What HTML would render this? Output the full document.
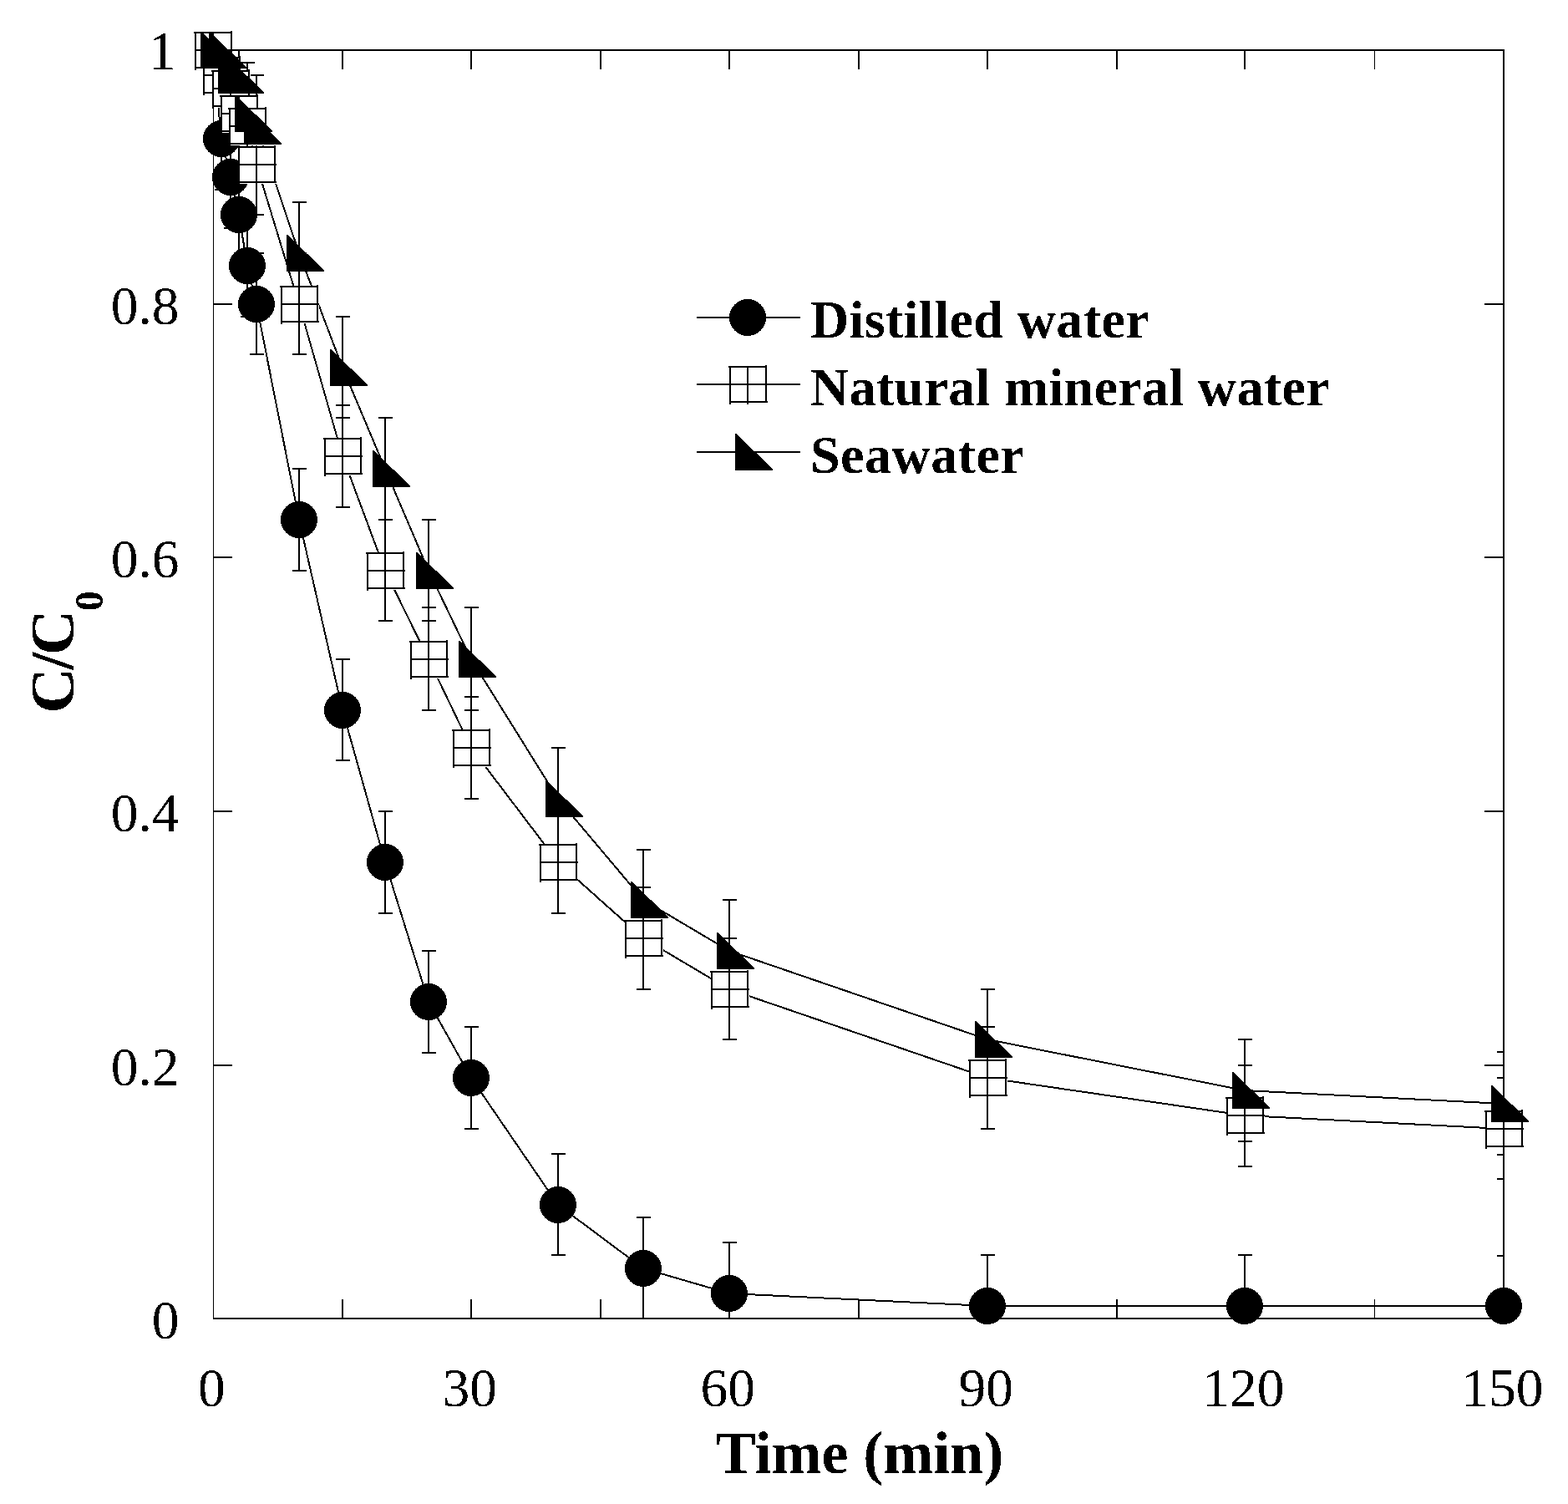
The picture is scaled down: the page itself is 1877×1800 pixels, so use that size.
<!DOCTYPE html>
<html lang="en"><head><meta charset="utf-8"><title>C/C0 versus time</title>
<style>html,body{margin:0;padding:0;background:#fff}body{width:1877px;height:1800px;overflow:hidden}svg{display:block}text{font-family:"Liberation Serif","DejaVu Serif",serif;fill:#000}.b{font-weight:bold}</style></head><body>
<svg width="1877" height="1800" viewBox="0 0 1877 1800">
<defs><clipPath id="cp"><rect x="255" y="59" width="1546" height="1520"/></clipPath><filter id="bw" x="-5%" y="-20%" width="110%" height="140%" color-interpolation-filters="sRGB"><feComponentTransfer><feFuncA type="discrete" tableValues="0 1"/></feComponentTransfer></filter></defs>
<rect width="1877" height="1800" fill="#fff"/>
<path id="axes" shape-rendering="crispEdges" d="M255 59H1801V61H255zM255 1577H1801V1579H255zM255 59H256V1579H255zM1799 59H1801V1579H1799zM409 1555H411V1577H409zM409 61H411V83H409zM563 1555H565V1577H563zM563 61H565V83H563zM718 1555H720V1577H718zM718 61H720V83H718zM872 1555H874V1577H872zM872 61H874V83H872zM1027 1555H1029V1577H1027zM1027 61H1029V83H1027zM1181 1555H1183V1577H1181zM1181 61H1183V83H1181zM1336 1555H1338V1577H1336zM1336 61H1338V83H1336zM1489 1555H1491V1577H1489zM1489 61H1491V83H1489zM1645 1555H1646V1577H1645zM1645 61H1646V83H1645zM256 1274H278V1276H256zM1777 1274H1799V1276H1777zM256 970H278V972H256zM1777 970H1799V972H1777zM256 666H278V668H256zM1777 666H1799V668H1777zM256 363H278V365H256zM1777 363H1799V365H1777z"/>
<g clip-path="url(#cp)" shape-rendering="crispEdges">
<path d="M254 -2H256V122H254zM247 -2H264V0H247zM247 120H264V122H247zM264 105H266V228H264zM257 105H274V107H257zM257 226H274V228H257zM275 150H277V274H275zM268 150H285V152H268zM268 272H285V274H268zM285 196H287V319H285zM278 196H295V198H278zM278 317H295V319H278zM295 256H297V380H295zM288 256H305V258H288zM288 378H305V380H288zM306 302H308V425H306zM299 302H316V304H299zM299 423H316V425H299zM357 560H359V684H357zM350 560H367V562H350zM350 682H367V684H350zM409 788H411V911H409zM402 788H419V790H402zM402 909H419V911H402zM460 970H462V1094H460zM453 970H470V972H453zM453 1092H470V1094H453zM512 1137H514V1261H512zM505 1137H522V1139H505zM505 1259H522V1261H505zM563 1228H565V1352H563zM556 1228H573V1230H556zM556 1350H573V1352H556zM667 1380H669V1503H667zM660 1380H677V1382H660zM660 1501H677V1503H660zM769 1456H771V1579H769zM762 1456H779V1458H762zM762 1577H779V1579H762zM872 1486H874V1610H872zM865 1486H882V1488H865zM865 1608H882V1610H865zM1181 1501H1183V1625H1181zM1174 1501H1191V1503H1174zM1174 1623H1191V1625H1174zM1489 1501H1491V1625H1489zM1482 1501H1499V1503H1482zM1482 1623H1499V1625H1482zM1799 1502H1801V1625H1799zM1792 1502H1809V1504H1792zM1792 1623H1809V1625H1792z"/>
<path d="M254 -2H256V122H254zM247 -2H264V0H247zM247 120H264V122H247zM264 29H266V152H264zM257 29H274V31H257zM257 150H274V152H257zM275 44H277V167H275zM268 44H285V46H268zM268 165H285V167H268zM285 74H287V198H285zM278 74H295V76H278zM278 196H295V198H278zM295 89H297V213H295zM288 89H305V91H288zM288 211H305V213H288zM306 135H308V258H306zM299 135H316V137H299zM299 256H316V258H299zM357 302H359V425H357zM350 302H367V304H350zM350 423H367V425H350zM409 484H411V608H409zM402 484H419V486H402zM402 606H419V608H402zM460 621H462V744H460zM453 621H470V623H453zM453 742H470V744H453zM512 726H514V851H512zM505 726H522V728H505zM505 849H522V851H505zM563 833H565V957H563zM556 833H573V835H556zM556 955H573V957H556zM667 970H669V1094H667zM660 970H677V972H660zM660 1092H677V1094H660zM769 1061H771V1185H769zM762 1061H779V1063H762zM762 1183H779V1185H762zM872 1122H874V1245H872zM865 1122H882V1124H865zM865 1243H882V1245H865zM1181 1228H1183V1352H1181zM1174 1228H1191V1230H1174zM1174 1350H1191V1352H1174zM1489 1274H1491V1397H1489zM1482 1274H1499V1276H1482zM1482 1395H1499V1397H1482zM1799 1289H1801V1412H1799zM1792 1289H1809V1291H1792zM1792 1410H1809V1412H1792z"/>
<path d="M254 -2H256V122H254zM247 -2H264V0H247zM247 120H264V122H247zM264 -2H266V122H264zM257 -2H274V0H257zM257 120H274V122H257zM275 29H277V152H275zM268 29H285V31H268zM268 150H285V152H268zM285 29H287V152H285zM278 29H295V31H278zM278 150H295V152H278zM295 74H297V198H295zM288 74H305V76H288zM288 196H305V198H288zM306 89H308V213H306zM299 89H316V91H299zM299 211H316V213H299zM357 241H359V365H357zM350 241H367V243H350zM350 363H367V365H350zM409 378H411V501H409zM402 378H419V380H402zM402 499H419V501H402zM460 499H462V623H460zM453 499H470V501H453zM453 621H470V623H453zM512 621H514V744H512zM505 621H522V623H505zM505 742H522V744H505zM563 726H565V851H563zM556 726H573V728H556zM556 849H573V851H556zM667 894H669V1018H667zM660 894H677V896H660zM660 1016H677V1018H660zM769 1016H771V1139H769zM762 1016H779V1018H762zM762 1137H779V1139H762zM872 1076H874V1200H872zM865 1076H882V1078H865zM865 1198H882V1200H865zM1181 1183H1183V1306H1181zM1174 1183H1191V1185H1174zM1174 1304H1191V1306H1174zM1489 1243H1491V1367H1489zM1482 1243H1499V1245H1482zM1482 1365H1499V1367H1482zM1799 1258H1801V1383H1799zM1792 1258H1809V1260H1792zM1792 1381H1809V1383H1792z"/>
</g>
<g fill="none" stroke="#000" stroke-width="2" stroke-linejoin="round" shape-rendering="crispEdges">
<polyline points="255,60 265,166 276,212 286,257 296,318 307,364 358,622 410,850 461,1032 513,1199 564,1290 668,1442 770,1518 873,1548 1182,1563 1490,1563 1800,1563"/>
<polyline points="255,60 265,90 276,106 286,136 296,151 307,197 358,364 410,546 461,683 513,789 564,895 668,1032 770,1123 873,1184 1182,1290 1490,1335 1800,1351"/>
<polyline points="255,60 265,60 276,90 286,90 296,136 307,151 358,303 410,440 461,561 513,683 564,789 668,956 770,1077 873,1138 1182,1244 1490,1305 1800,1321"/>
</g>
<g shape-rendering="crispEdges">
<g><circle cx="255" cy="60" r="22"/><circle cx="265" cy="166" r="22"/><circle cx="276" cy="212" r="22"/><circle cx="286" cy="257" r="22"/><circle cx="296" cy="318" r="22"/><circle cx="307" cy="364" r="22"/><circle cx="358" cy="622" r="22"/><circle cx="410" cy="850" r="22"/><circle cx="461" cy="1032" r="22"/><circle cx="513" cy="1199" r="22"/><circle cx="564" cy="1290" r="22"/><circle cx="668" cy="1442" r="22"/><circle cx="770" cy="1518" r="22"/><circle cx="873" cy="1548" r="22"/><circle cx="1182" cy="1563" r="22"/><circle cx="1490" cy="1563" r="22"/><circle cx="1800" cy="1563" r="22"/></g>
<path fill="#fff" d="M233 38H279V83H233z"/><path d="M232 38H278V40H232zM233 80H279V82H233zM233 38H235V84H233zM276 37H278V82H276zM233 59H279V61H233zM254 38H256V84H254z"/>
<path fill="#fff" d="M243 68H289V113H243z"/><path d="M242 68H288V70H242zM243 110H289V112H243zM243 68H245V114H243zM286 67H288V112H286zM243 89H289V91H243zM264 68H266V114H264z"/>
<path fill="#fff" d="M254 84H300V129H254z"/><path d="M253 84H299V86H253zM254 126H300V128H254zM254 84H256V130H254zM297 83H299V128H297zM254 105H300V107H254zM275 84H277V130H275z"/>
<path fill="#fff" d="M264 114H310V159H264z"/><path d="M263 114H309V116H263zM264 156H310V158H264zM264 114H266V160H264zM307 113H309V158H307zM264 135H310V137H264zM285 114H287V160H285z"/>
<path fill="#fff" d="M274 129H320V174H274z"/><path d="M273 129H319V131H273zM274 171H320V173H274zM274 129H276V175H274zM317 128H319V173H317zM274 150H320V152H274zM295 129H297V175H295z"/>
<path fill="#fff" d="M285 175H331V220H285z"/><path d="M284 175H330V177H284zM285 217H331V219H285zM285 175H287V221H285zM328 174H330V219H328zM285 196H331V198H285zM306 175H308V221H306z"/>
<path fill="#fff" d="M336 342H382V387H336z"/><path d="M335 342H381V344H335zM336 384H382V386H336zM336 342H338V388H336zM379 341H381V386H379zM336 363H382V365H336zM357 342H359V388H357z"/>
<path fill="#fff" d="M388 524H434V569H388z"/><path d="M387 524H433V526H387zM388 566H434V568H388zM388 524H390V570H388zM431 523H433V568H431zM388 545H434V547H388zM409 524H411V570H409z"/>
<path fill="#fff" d="M439 661H485V706H439z"/><path d="M438 661H484V663H438zM439 703H485V705H439zM439 661H441V707H439zM482 660H484V705H482zM439 682H485V684H439zM460 661H462V707H460z"/>
<path fill="#fff" d="M491 767H537V812H491z"/><path d="M490 767H536V769H490zM491 809H537V811H491zM491 767H493V813H491zM534 766H536V811H534zM491 788H537V790H491zM512 767H514V813H512z"/>
<path fill="#fff" d="M542 873H588V918H542z"/><path d="M541 873H587V875H541zM542 915H588V917H542zM542 873H544V919H542zM585 872H587V917H585zM542 894H588V896H542zM563 873H565V919H563z"/>
<path fill="#fff" d="M646 1010H692V1055H646z"/><path d="M645 1010H691V1012H645zM646 1052H692V1054H646zM646 1010H648V1056H646zM689 1009H691V1054H689zM646 1031H692V1033H646zM667 1010H669V1056H667z"/>
<path fill="#fff" d="M748 1101H794V1146H748z"/><path d="M747 1101H793V1103H747zM748 1143H794V1145H748zM748 1101H750V1147H748zM791 1100H793V1145H791zM748 1122H794V1124H748zM769 1101H771V1147H769z"/>
<path fill="#fff" d="M851 1162H897V1207H851z"/><path d="M850 1162H896V1164H850zM851 1204H897V1206H851zM851 1162H853V1208H851zM894 1161H896V1206H894zM851 1183H897V1185H851zM872 1162H874V1208H872z"/>
<path fill="#fff" d="M1160 1268H1206V1313H1160z"/><path d="M1159 1268H1205V1270H1159zM1160 1310H1206V1312H1160zM1160 1268H1162V1314H1160zM1203 1267H1205V1312H1203zM1160 1289H1206V1291H1160zM1181 1268H1183V1314H1181z"/>
<path fill="#fff" d="M1468 1313H1514V1358H1468z"/><path d="M1467 1313H1513V1315H1467zM1468 1355H1514V1357H1468zM1468 1313H1470V1359H1468zM1511 1312H1513V1357H1511zM1468 1334H1514V1336H1468zM1489 1313H1491V1359H1489z"/>
<path fill="#fff" d="M1778 1329H1824V1374H1778z"/><path d="M1777 1329H1823V1331H1777zM1778 1371H1824V1373H1778zM1778 1329H1780V1375H1778zM1821 1328H1823V1373H1821zM1778 1350H1824V1352H1778zM1799 1329H1801V1375H1799z"/>
<path d="M240 38h1.2L284.6 79.9v2.2H240zM250 38h1.2L294.6 79.9v2.2H250zM261 68h1.2L305.6 109.9v2.2H261zM271 68h1.2L315.6 109.9v2.2H271zM281 114h1.2L325.6 155.9v2.2H281zM292 129h1.2L336.6 170.9v2.2H292zM343 281h1.2L387.6 322.9v2.2H343zM395 418h1.2L439.6 459.9v2.2H395zM446 539h1.2L490.6 580.9v2.2H446zM498 661h1.2L542.6 702.9v2.2H498zM549 767h1.2L593.6 808.9v2.2H549zM653 934h1.2L697.6 975.9v2.2H653zM755 1055h1.2L799.6 1096.9v2.2H755zM858 1116h1.2L902.6 1157.9v2.2H858zM1167 1222h1.2L1211.6 1263.9v2.2H1167zM1475 1283h1.2L1519.6 1324.9v2.2H1475zM1785 1299h1.2L1829.6 1340.9v2.2H1785z"/>
<path d="M834 379H958V381H834zM834 459H958V461H834zM834 540H958V542H834z"/>
<circle cx="895" cy="380" r="22"/>
<path fill="#fff" d="M873 438H919V483H873z"/><path d="M872 438H918V440H872zM873 480H919V482H873zM873 438H875V484H873zM916 437H918V482H916zM873 459H919V461H873zM894 438H896V484H894z"/>
<path d="M880 519h1.2L924.6 560.9v2.2H880z"/>
</g>
<g filter="url(#bw)">
<g class="b" font-size="64">
<text x="970" y="404" letter-spacing="0.41">Distilled water</text>
<text x="970" y="485" letter-spacing="0.33">Natural mineral water</text>
<text x="970" y="565.5" letter-spacing="0.48">Seawater</text>
</g>
<g font-size="65.5" text-anchor="end">
<text x="214.5" y="1601.5">0</text>
<text x="214.5" y="1298.5">0.2</text>
<text x="214.5" y="994.5">0.4</text>
<text x="214.5" y="690.5">0.6</text>
<text x="214.5" y="387.5">0.8</text>
<text x="210.5" y="82.8">1</text>
</g>
<g font-size="65.5" text-anchor="middle">
<text x="253.3" y="1682.5">0</text>
<text x="562.3" y="1682.5">30</text>
<text x="871.3" y="1682.5">60</text>
<text x="1180.3" y="1682.5">90</text>
<text x="1488.3" y="1682.5">120</text>
<text x="1798.3" y="1682.5">150</text>
</g>
<text class="b" font-size="72" text-anchor="middle" x="1029" y="1763">Time (min)</text>
</g>
<g filter="url(#bw)"><text class="b" font-size="75" transform="translate(88.1 853.6) rotate(-90)">C<tspan dx="-2.25">/</tspan><tspan dx="-3.05">C</tspan><tspan font-size="48" dy="34.7" dx="-1.65">0</tspan></text></g>
</svg></body></html>
